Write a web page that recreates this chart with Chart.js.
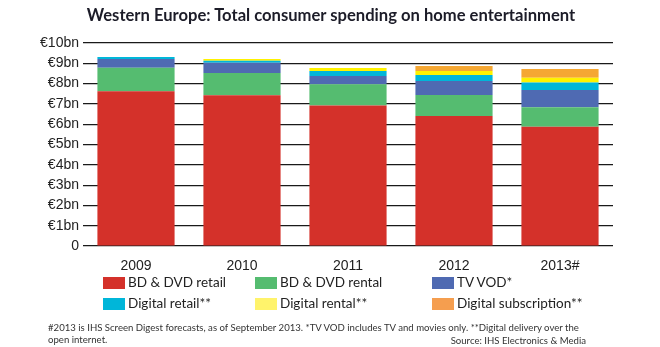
<!DOCTYPE html>
<html>
<head>
<meta charset="utf-8">
<script src="https://cdn.jsdelivr.net/npm/chart.js@4/dist/chart.umd.min.js"></script>
<style>
  html, body { margin: 0; padding: 0; background: #fff; }
  #wrap { position: relative; width: 660px; height: 347px; overflow: hidden; }
  #chartBox { position: absolute; left: 0; top: 0; width: 660px; height: 347px; }
  .txt { position: absolute; color: #222; white-space: nowrap; font-family: Lato, "Open Sans", sans-serif; }
  #title { left: 0; width: 662px; top: 5px; text-align: center; font-weight: 700; font-size: 16.6px; color: #1c1c28; }
  .leg { position: absolute; font-family: Lato, sans-serif; font-size: 13.5px; color: #222; white-space: nowrap; }
  .leg i { position: absolute; left: 0; top: 2px; width: 22px; height: 12px; }
  .leg span { position: absolute; left: 25px; top: -1px; }
  .note { font-size: 9.6px; color: #333; }
</style>
</head>
<body>
<div id="wrap">
  <div id="chartBox"><canvas id="grafico"></canvas></div>
  <div id="title" class="txt">Western Europe: Total consumer spending on home entertainment</div>
  <div id="legend"></div>
  <div class="txt note" style="left:48px; top:322px;">#2013 is IHS Screen Digest forecasts, as of September 2013. *TV VOD includes TV and movies only. **Digital delivery over the</div>
  <div class="txt note" style="left:48px; top:334px;">open internet.</div>
  <div class="txt note" style="right:74px; top:335px;">Source: IHS Electronics &amp; Media</div>
</div>
<script>
// valores em bilhões de euros
const anos = ['2009', '2010', '2011', '2012', '2013#'];
const bdDvdRetail = [7.62, 7.42, 6.92, 6.41, 5.88];
const bdDvdRental = [1.16, 1.10, 1.05, 1.03, 0.95];
const tvVod = [0.43, 0.51, 0.40, 0.69, 0.86];
const digitalRetail = [0.10, 0.10, 0.25, 0.29, 0.37];
const digitalRental = [0, 0.08, 0.15, 0.20, 0.23];
const digitalSubscription = [0, 0, 0, 0.25, 0.43];
const rotulosY = ['0', '€1bn', '€2bn', '€3bn', '€4bn', '€5bn', '€6bn', '€7bn', '€8bn', '€9bn', '€10bn'];

const series = [
    { label: 'BD & DVD retail', data: bdDvdRetail, cor: '#d4312a', corLegenda: '#d4312a' },
    { label: 'BD & DVD rental', data: bdDvdRental, cor: '#55bc70', corLegenda: '#55bc70' },
    { label: 'TV VOD*', data: tvVod, cor: '#4f6ab2', corLegenda: '#4f6ab2' },
    { label: 'Digital retail**', data: digitalRetail, cor: '#00b6d9', corLegenda: '#00b6d9' },
    { label: 'Digital rental**', data: digitalRental, cor: '#fff200', corLegenda: '#fff36b' },
    { label: 'Digital subscription**', data: digitalSubscription, cor: '#f5a733', corLegenda: '#f59e4f' }
];

// legenda em 3 colunas x 2 linhas
const colunas = [103, 255, 432];
const linhas = [275, 296];
const legenda = document.getElementById('legend');
series.forEach((s, i) => {
    const d = document.createElement('div');
    d.className = 'leg';
    d.style.left = colunas[i % 3] + 'px';
    d.style.top = linhas[Math.floor(i / 3)] + 'px';
    d.innerHTML = '<i style="background:' + s.corLegenda + '"></i><span></span>';
    d.querySelector('span').textContent = s.label;
    legenda.appendChild(d);
});

const ctx = document.getElementById('grafico').getContext('2d');
new Chart(ctx, {
    type: 'bar',
    data: {
        labels: anos,
        datasets: series.map(s => ({
            label: s.label,
            data: s.data,
            backgroundColor: s.cor,
            borderWidth: 0,
            categoryPercentage: 1,
            barPercentage: 0.728
        }))
    },
    options: {
        responsive: true,
        maintainAspectRatio: false,
        animation: false,
        layout: { padding: { left: 0, top: 43, right: 47, bottom: 71 } },
        plugins: { legend: { display: false }, title: { display: false }, tooltip: { enabled: false } },
        scales: {
            x: {
                stacked: true,
                grid: { display: false },
                border: { display: false },
                ticks: {
                    color: '#222',
                    padding: 4,
                    font: { family: '"Liberation Sans", Arial, sans-serif', size: 14 }
                },
                afterFit: (s) => { s.height = 30; }
            },
            y: {
                stacked: true,
                min: 0,
                max: 10,
                border: { display: false },
                grid: { color: '#1a1a1a', lineWidth: 1.2, drawTicks: false },
                ticks: {
                    stepSize: 1,
                    color: '#222',
                    padding: 4,
                    font: { family: '"Liberation Sans", Arial, sans-serif', size: 14 },
                    callback: (v) => rotulosY[v]
                },
                afterFit: (s) => { s.width = 83; }
            }
        }
    }
});
</script>
</body>
</html>
